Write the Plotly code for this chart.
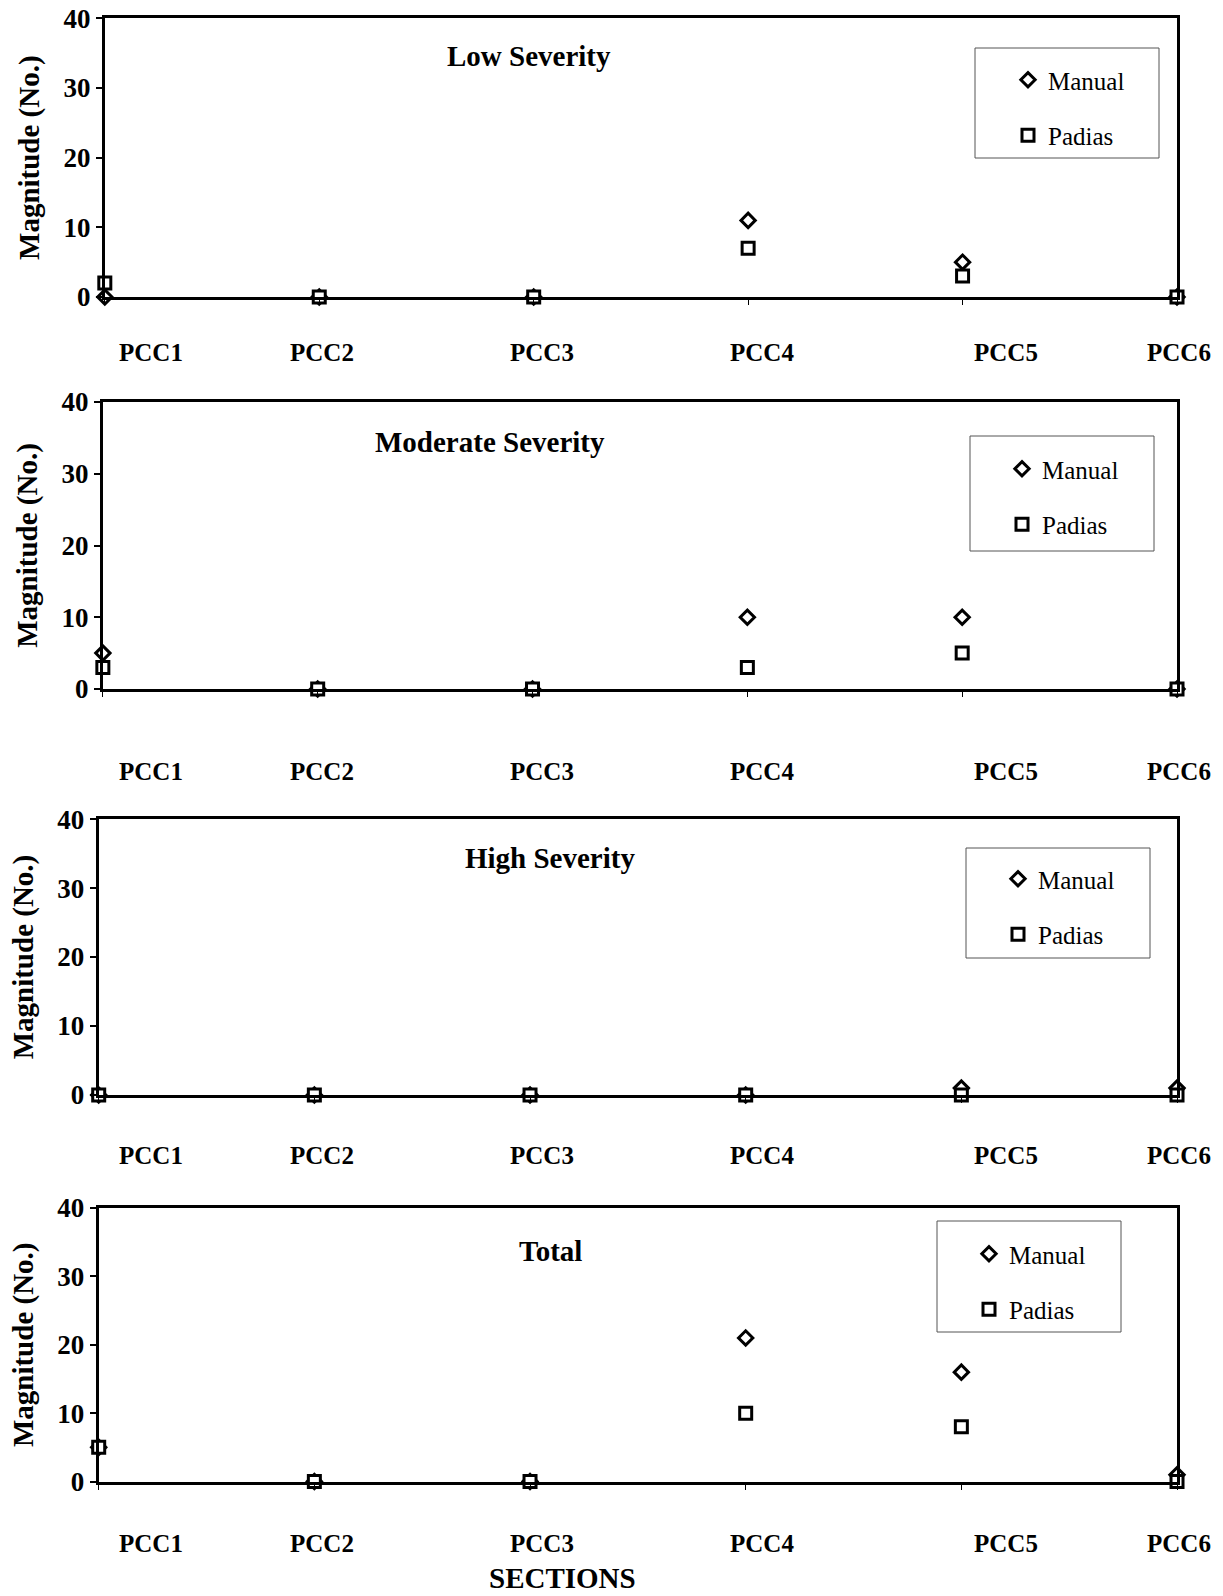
import plotly.graph_objects as go

# ---------------- data ----------------
SECTIONS = ["PCC1", "PCC2", "PCC3", "PCC4", "PCC5", "PCC6"]
SECTION_POS = [1, 2, 3, 4, 5, 6]
PANEL_TITLES = ["Low Severity", "Moderate Severity", "High Severity", "Total"]
SERIES_NAMES = ["Manual", "Padias"]

MANUAL_LOW = [0, 0, 0, 11, 5, 0]
PADIAS_LOW = [2, 0, 0, 7, 3, 0]
MANUAL_MOD = [5, 0, 0, 10, 10, 0]
PADIAS_MOD = [3, 0, 0, 3, 5, 0]
MANUAL_HIGH = [0, 0, 0, 0, 1, 1]
PADIAS_HIGH = [0, 0, 0, 0, 0, 0]
MANUAL_TOTAL = [5, 0, 0, 21, 16, 1]
PADIAS_TOTAL = [5, 0, 0, 10, 8, 0]
Y_TICKS = [0, 10, 20, 30, 40]

PANELS = [
    (MANUAL_LOW, PADIAS_LOW),
    (MANUAL_MOD, PADIAS_MOD),
    (MANUAL_HIGH, PADIAS_HIGH),
    (MANUAL_TOTAL, PADIAS_TOTAL),
]

# ---------------- layout / style ----------------
W, H = 1223, 1596
FONT = "Liberation Serif"

X_DOM = [[0.0857, 0.9624], [0.0841, 0.9624], [0.0807, 0.9624], [0.0807, 0.9624]]
Y_DOM = [[0.8139, 0.9885], [0.5683, 0.7481], [0.3139, 0.4868], [0.0717, 0.2431]]

# legend boxes in pixels (x0, x1, y0, y1)
LEG_BOX = [(975, 1159, 48, 158), (970, 1154, 436, 551),
           (966, 1150, 848, 958), (937, 1121, 1221, 1332)]
LEG_MARK = [(1030, 76), (1024, 465), (1020, 875), (991, 1250)]

TITLE_POS = [(529, 56), (490, 442), (550, 858), (550, 1251)]
LABEL_XPIX = [151, 322, 542, 762, 1006, 1179]
LABEL_YPIX = [353, 772, 1155, 1543]

def px(x):
    return x / W

def py(y):
    return 1 - y / H

fig = go.Figure()

legend_names = ["legend", "legend2", "legend3", "legend4"]

for i, (man, pad) in enumerate(PANELS):
    xa = "x" if i == 0 else f"x{i+1}"
    ya = "y" if i == 0 else f"y{i+1}"
    fig.add_trace(go.Scatter(
        x=SECTION_POS, y=man, mode="markers", name=SERIES_NAMES[0],
        xaxis=xa, yaxis=ya, legend=legend_names[i], legendgroup=f"m{i}",
        marker=dict(symbol="diamond", size=11, color="white",
                    line=dict(color="black", width=3)),
        cliponaxis=False,
    ))
    fig.add_trace(go.Scatter(
        x=SECTION_POS, y=pad, mode="markers", name=SERIES_NAMES[1],
        xaxis=xa, yaxis=ya, legend=legend_names[i], legendgroup=f"p{i}",
        marker=dict(symbol="square", size=12, color="white",
                    line=dict(color="black", width=3)),
        cliponaxis=False,
    ))

layout = dict(
    width=W, height=H, autosize=False,
    margin=dict(l=0, r=0, t=0, b=0, pad=0, autoexpand=False),
    paper_bgcolor="white", plot_bgcolor="white",
    font=dict(family=FONT, color="black", size=22),
    showlegend=True,
)

shapes = []
annotations = []
for i in range(4):
    xk = "xaxis" if i == 0 else f"xaxis{i+1}"
    yk = "yaxis" if i == 0 else f"yaxis{i+1}"
    ya = "y" if i == 0 else f"y{i+1}"
    xa = "x" if i == 0 else f"x{i+1}"
    layout[xk] = dict(
        domain=X_DOM[i], anchor=ya, range=[1, 6],
        tickvals=SECTION_POS, showticklabels=False,
        ticks="outside", ticklen=5, tickwidth=1, tickcolor="black",
        showline=True, mirror=True, linecolor="black", linewidth=3,
        showgrid=False, zeroline=False, fixedrange=True, automargin=False,
    )
    layout[yk] = dict(
        domain=Y_DOM[i], anchor=xa, range=[0, 40],
        tickvals=Y_TICKS, ticktext=[str(v) for v in Y_TICKS],
        ticks="outside", ticklen=6, tickwidth=1.5, tickcolor="black",
        tickfont=dict(family=FONT, size=27, color="black", weight="bold"),
        showline=True, mirror=True, linecolor="black", linewidth=3,
        showgrid=False, zeroline=False, fixedrange=True, automargin=False,
        title=dict(text="<b>Magnitude (No.)</b>",
                   font=dict(family=FONT, size=29, color="black"), standoff=16),
    )
    # legend
    mx, my = LEG_MARK[i]
    layout[legend_names[i]] = dict(
        x=px(mx - 22), y=py(my - 19), xanchor="left", yanchor="top",
        bgcolor="rgba(0,0,0,0)", borderwidth=0,
        font=dict(family=FONT, size=25, color="black"),
        tracegroupgap=20,
    )
    # legend box
    x0, x1, y0, y1 = LEG_BOX[i]
    shapes.append(dict(type="rect", xref="paper", yref="paper",
                       x0=px(x0), x1=px(x1), y0=py(y1), y1=py(y0),
                       line=dict(color="#555555", width=1), layer="below"))
    # panel title
    tx, ty = TITLE_POS[i]
    annotations.append(dict(text=f"<b>{PANEL_TITLES[i]}</b>", x=px(tx), y=py(ty),
                            xref="paper", yref="paper", showarrow=False,
                            xanchor="center", yanchor="middle",
                            font=dict(family=FONT, size=29, color="black")))
    # category labels
    for lab, lx in zip(SECTIONS, LABEL_XPIX):
        annotations.append(dict(text=f"<b>{lab}</b>", x=px(lx), y=py(LABEL_YPIX[i]),
                                xref="paper", yref="paper", showarrow=False,
                                xanchor="center", yanchor="middle",
                                font=dict(family=FONT, size=25, color="black")))

annotations.append(dict(text="<b>SECTIONS</b>", x=px(562), y=py(1578),
                        xref="paper", yref="paper", showarrow=False,
                        xanchor="center", yanchor="middle",
                        font=dict(family=FONT, size=29, color="black")))

layout["shapes"] = shapes
layout["annotations"] = annotations
fig.update_layout(**layout)

fig.write_html("out.html", config={"displayModeBar": False},
               post_script="document.body.style.margin='0';document.body.style.padding='0';")
